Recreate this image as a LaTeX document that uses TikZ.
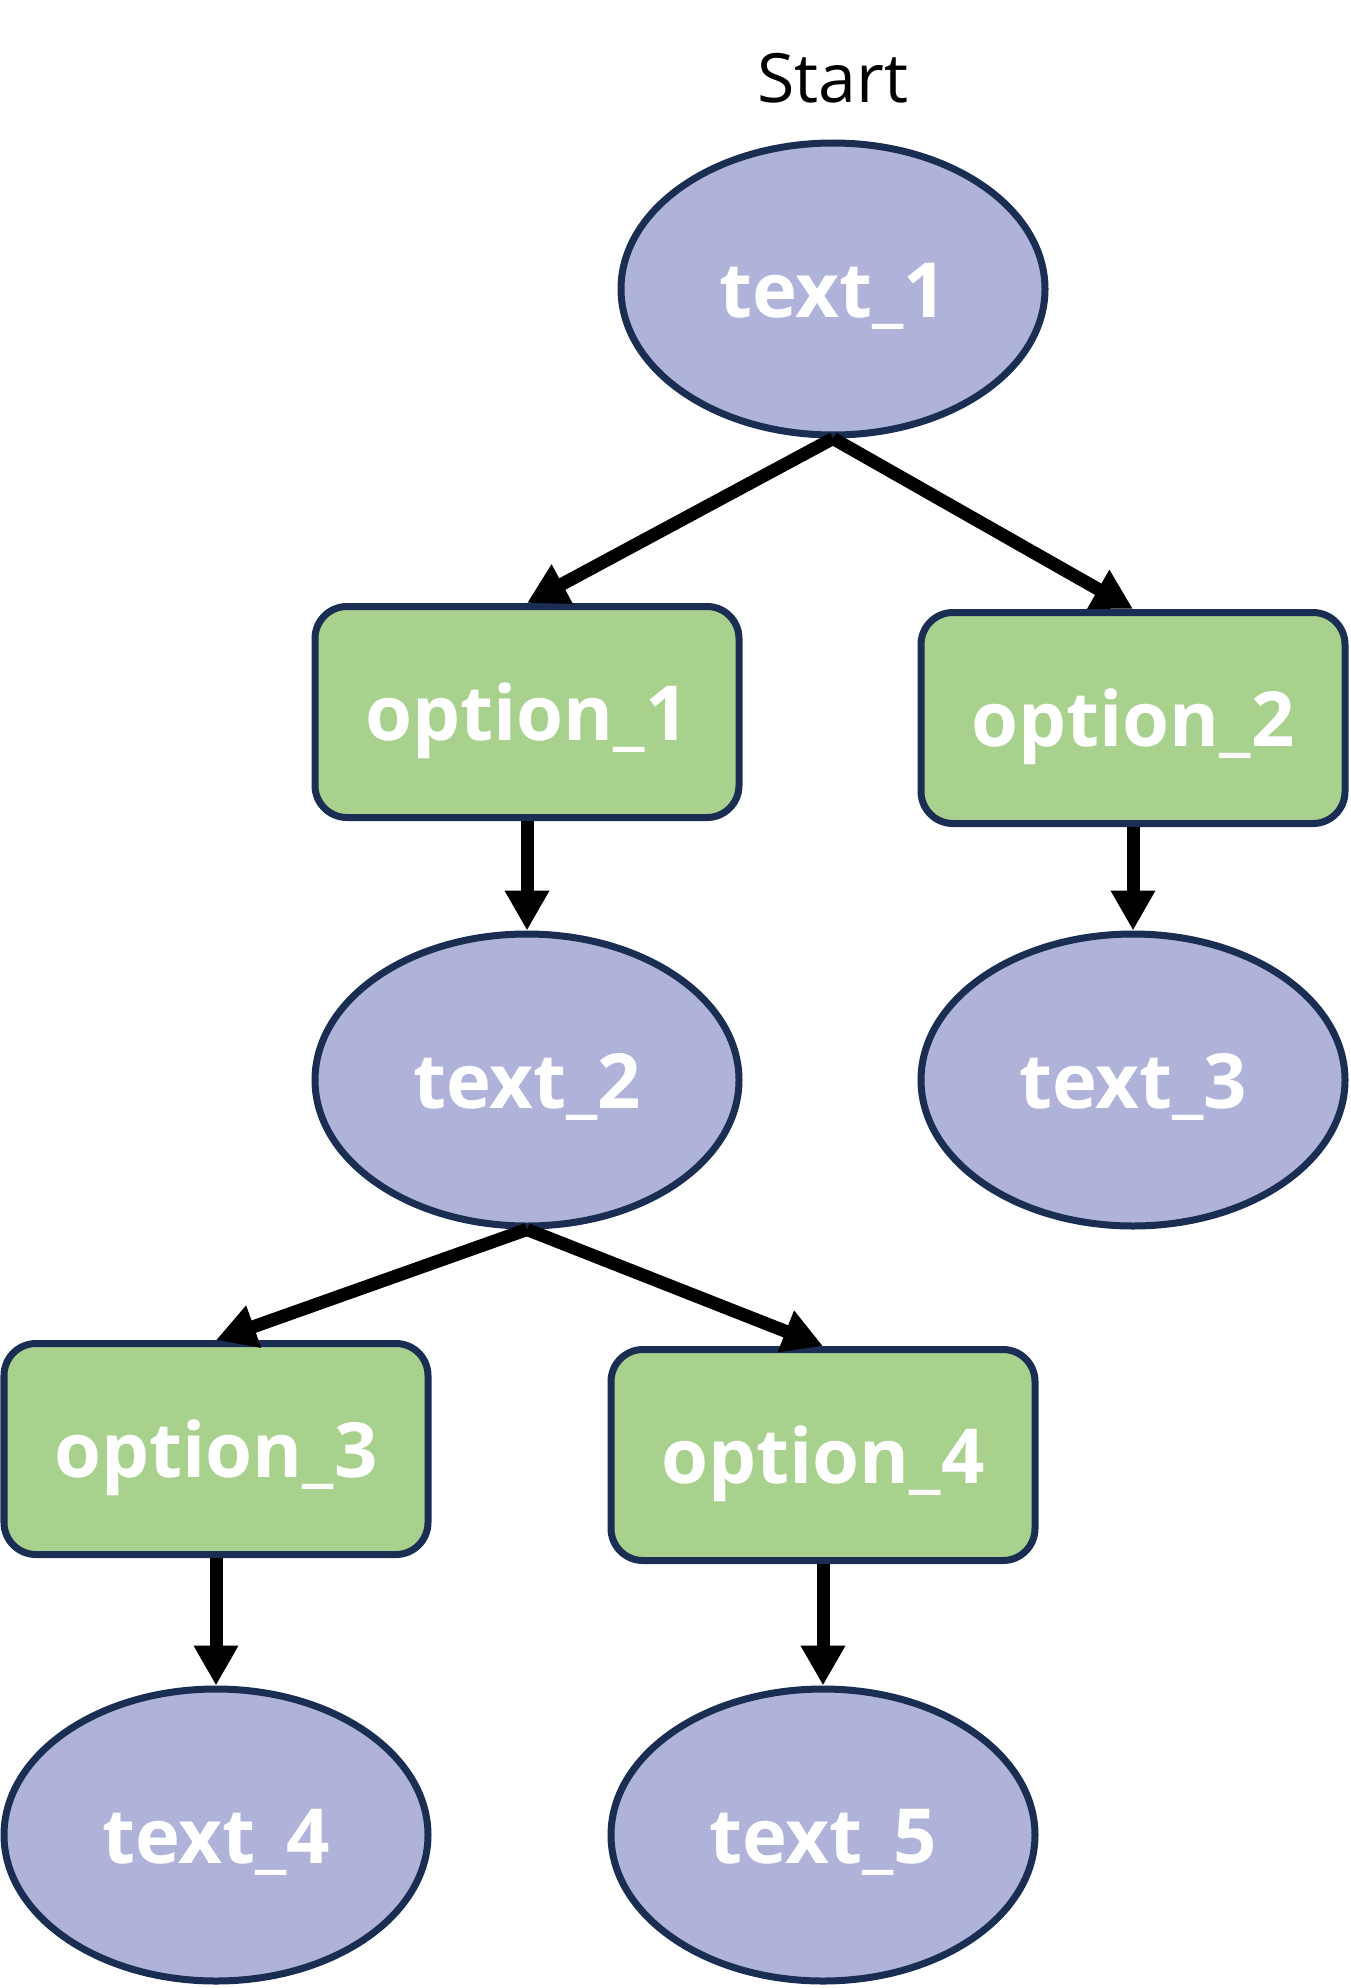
\documentclass[tikz,border=0pt]{standalone}
\usepackage{fontspec}
\setmainfont{Open Sans}
\usetikzlibrary{shapes.geometric,arrows.meta,calc}
\definecolor{ellfill}{HTML}{AFB2D9}
\definecolor{rectfill}{HTML}{A9D18E}
\definecolor{edge}{HTML}{1A2D52}
\begin{document}
\begin{tikzpicture}[x=1pt,y=-1pt,
  lbl/.style={text=white,font=\fontsize{76}{92}\selectfont\bfseries,text height=70pt,text depth=14pt},
  ell/.style={lbl,ellipse,draw=edge,fill=ellfill,line width=7pt,minimum width=424pt,minimum height=292pt,inner sep=0pt},
  opt/.style={lbl,rectangle,rounded corners=32pt,draw=edge,fill=rectfill,line width=7pt,minimum width=424pt,minimum height=211pt,inner sep=0pt},
  conn/.style={line width=13pt,-{Triangle[width=42pt,length=40pt]}}]
\useasboundingbox (0,0) rectangle (1350,1988);
\node[font=\fontsize{68}{82}\selectfont] (start) at (833,78) {Start};
\node[ell] (t1) at (833,289) {text\_1};
\node[opt] (o1) at (527,712) {option\_1};
\node[opt] (o2) at (1133,718) {option\_2};
\node[ell] (t2) at (527,1080) {text\_2};
\node[ell] (t3) at (1133,1080) {text\_3};
\node[opt] (o3) at (216,1449) {option\_3};
\node[opt] (o4) at (823,1455) {option\_4};
\node[ell] (t4) at (216,1835) {text\_4};
\node[ell] (t5) at (823,1835) {text\_5};
\draw[conn] (t1.south) -- (o1.north);
\draw[conn] (t1.south) -- (o2.north);
\draw[conn] (o1.south) -- (t2.north);
\draw[conn] (o2.south) -- (t3.north);
\draw[conn] (t2.south) -- (o3.north);
\draw[conn] (t2.south) -- (o4.north);
\draw[conn] (o3.south) -- (t4.north);
\draw[conn] (o4.south) -- (t5.north);
\end{tikzpicture}
\end{document}
